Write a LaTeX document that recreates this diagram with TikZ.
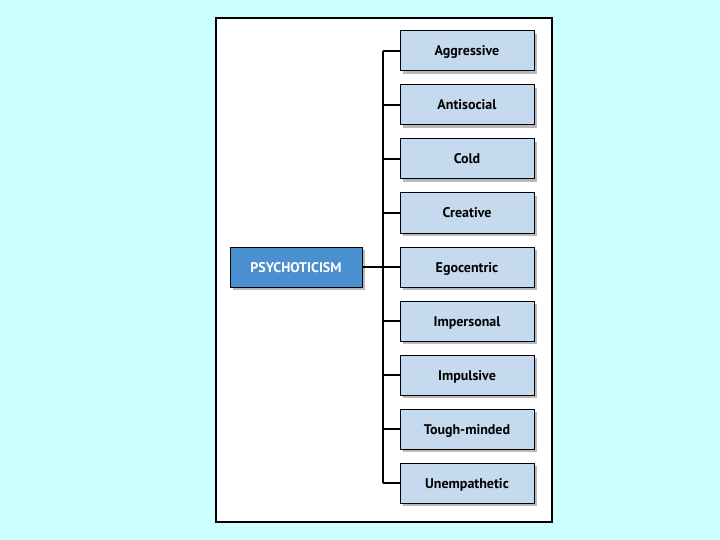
\documentclass[tikz,border=0pt]{standalone}
\usepackage{fontspec}
\setmainfont{PT Sans}
\usetikzlibrary{shadows}

\definecolor{bgcyan}{HTML}{CCFFFF}
\definecolor{traitfill}{HTML}{C6DAEF}
\definecolor{factorfill}{HTML}{4A8FD0}

\tikzset{
  trait/.style={draw=black, line width=1pt, fill=traitfill, minimum width=134pt,
    minimum height=40pt, inner sep=0pt, text height=11pt, text depth=1pt,
    font=\fontsize{14}{16}\selectfont\bfseries,
    drop shadow={shadow xshift=3pt, shadow yshift=-3pt, fill=gray!55, opacity=1}},
  factor/.style={trait, fill=factorfill, minimum width=132pt, text=white},
  branch/.style={line width=2.8pt}
}

\begin{document}
\begin{tikzpicture}[x=1pt, y=-1pt]
    \fill[bgcyan] (0,0) rectangle (720,540);
    \useasboundingbox (0,0) rectangle (720,540);
    \filldraw[fill=white, draw=black, line width=2.2pt] (216,18) rectangle (552,522);

    \node[factor] (psy) at (296,267) {PSYCHOTICISM};

    \coordinate (top) at (383,51);
    \coordinate (bot) at (383,483);
    \coordinate (mid) at (383,267);
    \draw[branch] (top) -- (bot);
    \draw[branch] (psy.east) -- (mid);

    \foreach \name/\label [count=\i from 0] in {agg/Aggressive, ant/Antisocial, cold/Cold,
        crea/Creative, ego/Egocentric, imp/Impersonal, impu/Impulsive,
        tough/Tough-minded, unem/Unempathetic} {
        \node[trait] (\name) at (467,51+54*\i) {\label};
        \draw[branch] (383,51+54*\i) -- (\name.west);
    }

\end{tikzpicture}
\end{document}
